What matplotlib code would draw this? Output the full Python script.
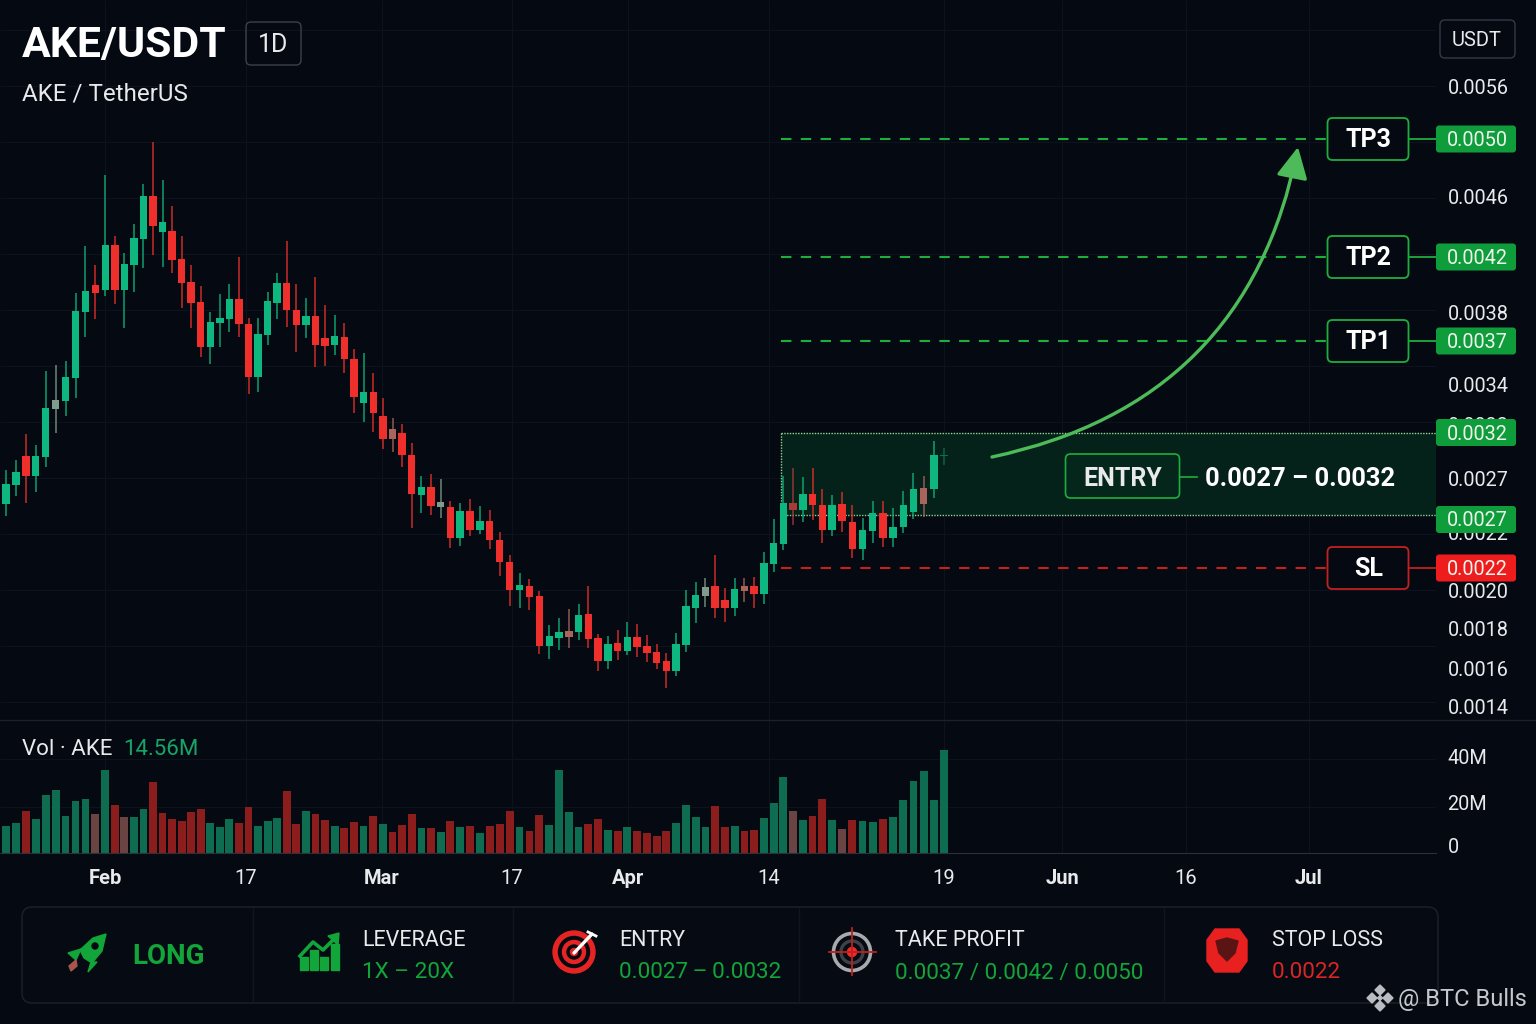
import matplotlib
matplotlib.use('Agg')
import matplotlib.pyplot as plt
import numpy as np
from matplotlib.patches import Circle, FancyArrowPatch, FancyBboxPatch, Polygon, Rectangle

plt.rcParams['font.family'] = ['Roboto', 'DejaVu Sans']

# prices are kept in chart ticks, read from the candles
HIGH = [442, 452, 478, 467, 541, 547, 551, 619, 666, 647,
        737, 676, 659, 688, 728, 770, 732, 706, 676, 647,
        626, 600, 618, 628, 655, 594, 594, 620, 639, 671,
        628, 614, 635, 607, 597, 589, 563, 559, 539, 514,
        494, 488, 469, 436, 438, 433, 411, 409, 413, 406,
        402, 380, 357, 339, 333, 321, 287, 294, 303, 308,
        326, 278, 276, 282, 290, 288, 277, 268, 259, 279,
        322, 330, 334, 357, 324, 334, 334, 335, 360, 393,
        436, 444, 435, 444, 423, 417, 420, 407, 394, 411,
        411, 404, 421, 439, 436, 471, 464]
LOW = [396, 416, 409, 420, 445, 479, 496, 514, 575, 593,
       616, 608, 584, 620, 644, 657, 645, 639, 604, 584,
       555, 548, 565, 580, 575, 518, 520, 567, 593, 585,
       560, 574, 545, 546, 557, 539, 499, 490, 480, 463,
       460, 445, 384, 399, 397, 394, 364, 366, 376, 378,
       363, 336, 306, 304, 302, 258, 253, 262, 264, 272,
       264, 241, 243, 252, 257, 255, 250, 243, 224, 236,
       260, 289, 305, 294, 290, 296, 310, 304, 308, 340,
       362, 387, 390, 392, 369, 376, 380, 354, 352, 369,
       365, 365, 379, 393, 395, 414, 447]
OPEN = [408, 427, 456, 436, 455, 503, 511, 534, 600, 627,
        622, 667, 622, 647, 673, 716, 680, 681, 653, 630,
        610, 565, 589, 593, 613, 588, 535, 577, 609, 629,
        602, 587, 596, 574, 567, 575, 553, 509, 520, 496,
        483, 479, 457, 417, 425, 405, 405, 374, 401, 382,
        391, 372, 350, 322, 326, 316, 266, 274, 281, 280,
        298, 274, 251, 269, 261, 275, 266, 260, 251, 241,
        267, 304, 316, 326, 312, 304, 326, 326, 318, 348,
        368, 409, 402, 418, 407, 382, 408, 390, 363, 381,
        399, 374, 385, 400, 424, 423, 456]
CLOSE = [428, 440, 436, 456, 504, 512, 535, 601, 621, 619,
         667, 622, 648, 674, 716, 686, 690, 652, 629, 609,
         565, 590, 594, 613, 588, 535, 578, 611, 629, 602,
         587, 596, 567, 566, 576, 553, 515, 520, 499, 473,
         473, 457, 418, 425, 406, 410, 374, 401, 382, 391,
         372, 350, 322, 327, 315, 266, 276, 280, 275, 297,
         273, 251, 268, 261, 275, 265, 259, 249, 241, 268,
         306, 317, 325, 304, 304, 323, 321, 318, 349, 369,
         409, 402, 418, 407, 382, 407, 391, 363, 382, 399,
         374, 385, 407, 423, 408, 457, 457]
MUTED_UP = [5, 45, 72, 96]
MUTED_DOWN = [40, 58, 76, 81, 94]

# volume in millions
VOLUME = [11.1, 12.6, 17.4, 14.0, 24.2, 26.4, 15.3, 21.7, 22.4, 16.1,
          34.6, 20.0, 14.9, 14.9, 18.5, 29.6, 16.5, 14.0, 13.5, 17.0,
          18.3, 12.5, 10.8, 14.3, 12.4, 19.0, 11.1, 13.5, 14.7, 25.7,
          11.9, 17.5, 16.3, 13.9, 11.1, 10.4, 12.8, 11.3, 15.6, 12.2,
          8.6, 11.5, 16.1, 10.3, 10.6, 8.9, 13.2, 11.0, 11.4, 8.5,
          11.1, 12.2, 17.4, 10.7, 9.2, 15.8, 11.8, 34.4, 16.9, 10.8,
          11.9, 14.2, 9.6, 9.2, 11.0, 9.0, 8.2, 7.1, 9.3, 12.6,
          19.9, 15.0, 11.0, 19.4, 10.7, 11.3, 9.3, 9.7, 14.7, 20.7,
          31.8, 17.4, 13.6, 15.3, 22.4, 13.6, 10.1, 13.6, 13.5, 12.9,
          14.2, 15.1, 22.2, 29.9, 34.2, 22.2, 43.0]
VOLUME_SIDE = ('ggrggggggd' 'grdggrrrrr' 'rgggrrgggr' 'rgrrgrrgrg' 'rrrgrgrgrg'
               'rrrgrrgggg' 'rrgrgrrrrg' 'gggrrgrrgg' 'gdgrrgdrgg' 'rgggggg')

# the time axis of the picture is not quite even, so it is calibrated
DAY_KNOTS = [0, 10, 20, 33, 47, 56, 75, 85, 96]
TIME_KNOTS = [6, 105.3, 200.7, 325, 460, 549.3, 734.7, 832, 944]
DATE_LABELS = ['Feb', '17', 'Mar', '17', 'Apr', '14', '19', 'Jun', '16', 'Jul']
DATE_POS = [105, 246, 382, 512, 628, 769, 944, 1062, 1186, 1309]
MONTHS = ['Feb', 'Mar', 'Apr', 'Jun', 'Jul']

PRICE_LABELS = ['0.0056', '0.0046', '0.0038', '0.0034', '0.0032', '0.0027',
                '0.0022', '0.0020', '0.0018', '0.0016', '0.0014']
PRICE_TICKS = [825, 715, 600, 527, 488, 433, 379, 322, 283, 244, 206]
VOL_LABELS = ['40M', '20M', '0']
VOL_TICKS = [40, 21, 3]

TARGETS = ['TP3', 'TP2', 'TP1', 'SL']
TARGET_PRICES = ['0.0050', '0.0042', '0.0037', '0.0022']
TARGET_TICKS = [773, 655, 571, 344]
ENTRY_TOP = 479
ENTRY_BOTTOM = 397

BG = '#050a12'
GREEN = '#0fb780'
RED = '#ef2f2b'
LINE_GREEN = '#1eae3e'
BADGE_GREEN = '#0f9c3a'
TEXT = '#e8eaec'
PANEL_W = 1436

fig = plt.figure(figsize=(15.36, 10.24), dpi=100, facecolor=BG)
ax = fig.add_axes([0, 1 - 720 / 1024, PANEL_W / 1536, 720 / 1024], facecolor=BG)
vol = fig.add_axes([0, 1 - 853 / 1024, PANEL_W / 1536, 133 / 1024], facecolor=BG)
top = fig.add_axes([0, 0, 1, 1])
top.set_xlim(0, 1536)
top.set_ylim(1024, 0)
top.axis('off')

x = np.interp(np.arange(len(HIGH)), DAY_KNOTS, TIME_KNOTS)
opens = np.array(OPEN)
closes = np.array(CLOSE)

colors = []
for i in range(len(HIGH)):
    if i in MUTED_UP:
        colors.append('#7f9c8c' if i != 96 else '#0c6e50')
    elif i in MUTED_DOWN:
        colors.append('#a9655c' if i != 81 else '#a83a3a')
    else:
        colors.append(GREEN if closes[i] >= opens[i] else RED)

# price panel
ax.set_xlim(0, PANEL_W)
ax.set_ylim(192, 912)
ax.hlines(np.arange(210, 912, 56), 0, PANEL_W, color='#0c131c', lw=0.8, zorder=0)
ax.vlines(DATE_POS, 192, 912, color='#0c131c', lw=0.8, zorder=0)
ax.add_patch(Rectangle((781, ENTRY_BOTTOM), PANEL_W - 781, ENTRY_TOP - ENTRY_BOTTOM,
                       facecolor='#05221a', edgecolor='none', zorder=1))
ax.hlines([ENTRY_TOP, ENTRY_BOTTOM], 781, PANEL_W, color='#8fd48f', lw=1, linestyles=(0, (1, 1)), zorder=2)
ax.vlines(781, ENTRY_BOTTOM, ENTRY_TOP, color='#8fd48f', lw=1, linestyles=(0, (1, 1)), zorder=2)

ax.vlines(x, LOW, HIGH, color=colors, lw=1.1, alpha=0.85, zorder=3)
ax.bar(x, np.abs(closes - opens).clip(min=1), bottom=np.minimum(opens, closes),
       width=7.4, color=colors, zorder=4)

ax.set_yticks(PRICE_TICKS, PRICE_LABELS)
ax.set_xticks([])
ax.tick_params(axis='y', left=False, labelleft=False, right=False, labelright=True,
               length=0, pad=8.2, labelsize=14.3, labelcolor=TEXT)
for s in ax.spines.values():
    s.set_visible(False)

# target levels with their boxes and price badges
for name, price, tick in zip(TARGETS, TARGET_PRICES, TARGET_TICKS):
    col = '#c4201f' if name == 'SL' else LINE_GREEN
    ax.plot([781, 1327], [tick, tick], color=col, lw=1.5, dashes=(5, 4.5), zorder=3)
    ax.plot([1409, 1436], [tick, tick], color=col, lw=1.3, zorder=3)
    ax.add_patch(FancyBboxPatch((1327.5, tick - 21), 81, 42, boxstyle='round,pad=0,rounding_size=5',
                                facecolor=BG, edgecolor=col, lw=1.3, zorder=5))
    ax.text(1368.5, tick - 1, name, color='white', fontsize=18, fontweight='bold',
            ha='center', va='center', zorder=6)
    badge = '#ee1c1c' if name == 'SL' else BADGE_GREEN
    ax.add_patch(FancyBboxPatch((1436, tick - 13.5), 80, 27, boxstyle='round,pad=0,rounding_size=3',
                                facecolor=badge, edgecolor='none', clip_on=False, zorder=7))
    ax.text(1477, tick - 1.5, price, color='#eef6ee', fontsize=14.3, ha='center', va='center',
            clip_on=False, zorder=8)

for price, tick in [('0.0032', ENTRY_TOP + 0.5), ('0.0027', ENTRY_BOTTOM - 4.5)]:
    ax.add_patch(FancyBboxPatch((1436, tick - 13.5), 80, 27, boxstyle='round,pad=0,rounding_size=3',
                                facecolor=BADGE_GREEN, edgecolor='none', clip_on=False, zorder=7))
    ax.text(1477, tick - 1.5, price, color='#eef6ee', fontsize=14.3, ha='center', va='center',
            clip_on=False, zorder=8)

# entry label
ax.add_patch(FancyBboxPatch((1065.5, 414), 114, 44, boxstyle='round,pad=0,rounding_size=5',
                            facecolor='#05271b', edgecolor=LINE_GREEN, lw=1.2, zorder=5))
ax.plot([1180, 1197], [435, 435], color=LINE_GREEN, lw=1.2, zorder=5)
ax.text(1123, 433.5, 'ENTRY', color=TEXT, fontsize=18, fontweight='bold', ha='center', va='center', zorder=6)
ax.text(1205, 433.5, '0.0027 – 0.0032', color='white', fontsize=18.4, fontweight='bold',
        ha='left', va='center', zorder=6)

ax.add_patch(FancyArrowPatch((992, 455), (1298, 765), connectionstyle='arc3,rad=0.33',
                             arrowstyle='-|>,head_length=0.95,head_width=0.48', mutation_scale=20,
                             color='#4dbb59', lw=2.4, shrinkA=0, shrinkB=0, zorder=5))

# volume panel
vol.set_xlim(0, PANEL_W)
vol.set_ylim(0, 133 / 2.4)
vol.vlines(DATE_POS, 0, 133 / 2.4, color='#0c131c', lw=0.8, zorder=0)
vol.hlines([19, 39], 0, PANEL_W, color='#0c131c', lw=0.8, zorder=0)
side_colors = {'g': '#0e6c50', 'r': '#8b1d1d', 'd': '#6a4343'}
vol.bar(x, VOLUME, width=7.8, color=[side_colors[s] for s in VOLUME_SIDE], zorder=2)
vol.set_xticks(DATE_POS, DATE_LABELS)
vol.set_yticks(VOL_TICKS, VOL_LABELS)
vol.tick_params(axis='y', left=False, labelleft=False, labelright=True, length=0, pad=8.2,
                labelsize=14.3, labelcolor=TEXT)
vol.tick_params(axis='x', length=0, pad=11.8, labelsize=14.5, labelcolor=TEXT)
for lab in vol.get_xticklabels():
    if lab.get_text() in MONTHS:
        lab.set_fontweight('bold')
for name, s in vol.spines.items():
    s.set_visible(name == 'bottom')
    s.set_color('#2a3139')
top.plot([0, 1536], [720, 720], color='#1a212b', lw=1)
top.text(22, 749.5, 'Vol · AKE', color=TEXT, fontsize=16, va='center')
top.text(123, 749.5, '14.56M', color='#16a566', fontsize=16, va='center')

# header
top.text(22, 45, 'AKE/USDT', color='white', fontsize=30.8, fontweight='bold', va='center')
top.text(22, 94, 'AKE / TetherUS', color=TEXT, fontsize=17.4, va='center')
top.add_patch(FancyBboxPatch((246, 22), 55, 43, boxstyle='round,pad=0,rounding_size=5',
                             facecolor='none', edgecolor='#3a414b', lw=1))
top.text(273.5, 45.5, '1D', color=TEXT, fontsize=18, ha='center', va='center')
top.add_patch(FancyBboxPatch((1440, 20), 75, 38, boxstyle='round,pad=0,rounding_size=5',
                             facecolor='none', edgecolor='#333a44', lw=1))
top.text(1477, 41, 'USDT', color=TEXT, fontsize=14.5, ha='center', va='center')

# summary strip
top.add_patch(FancyBboxPatch((22, 907), 1416, 96, boxstyle='round,pad=0,rounding_size=10',
                             facecolor='#060b13', edgecolor='#1c222b', lw=1))
top.vlines([253, 513, 799, 1164], 908, 1002, color='#10161f', lw=1)
SUMMARY_GREEN = '#12a53a'
top.text(168, 956.5, 'LONG', color=SUMMARY_GREEN, fontsize=20, fontweight='bold', ha='center', va='center')
for px, title, value, col in [(362, 'LEVERAGE', '1X – 20X', SUMMARY_GREEN),
                              (619, 'ENTRY', '0.0027\u2009–\u20090.0032', SUMMARY_GREEN),
                              (895, 'TAKE PROFIT', '0.0037 / 0.0042 / 0.0050', SUMMARY_GREEN),
                              (1272, 'STOP LOSS', '0.0022', '#d92525')]:
    top.text(px, 940, title, color=TEXT, fontsize=15.5, va='center')
    top.text(px, 973, value, color=col, fontsize=16.2, va='center')

# rocket
top.add_patch(Polygon([(106, 934), (93, 938), (80, 950), (84, 958), (92, 963), (102, 951)],
                      color=SUMMARY_GREEN))
top.add_patch(Polygon([(81, 949), (68, 953), (76, 960)], color=SUMMARY_GREEN))
top.add_patch(Polygon([(91, 962), (88, 972), (97, 962)], color=SUMMARY_GREEN))
top.add_patch(Polygon([(76, 960), (69, 966), (71, 971), (77, 966)], color='#a8564c'))
top.add_patch(Circle((95, 946), 3, color=BG))

# leverage chart icon
for bx, by in [(300, 957), (310, 950), (320, 957), (331, 944)]:
    top.add_patch(Rectangle((bx, by), 7.5, 970 - by, color=SUMMARY_GREEN))
top.plot([300, 313, 323, 336], [956, 942, 950, 937], color=SUMMARY_GREEN, lw=2.6)
top.add_patch(Polygon([(339, 933), (328, 936), (338, 945)], color=SUMMARY_GREEN))

# entry target
for r, col in [(21, '#e62424'), (15.5, BG), (11.5, '#e62424'), (7, BG), (3.5, '#e62424')]:
    top.add_patch(Circle((574, 952), r, color=col))
top.plot([574, 592], [953, 934], color='white', lw=2.4, solid_capstyle='round')
top.plot([588, 596], [932, 936], color='white', lw=2)

# take profit crosshair
top.add_patch(Circle((852, 952), 18.5, facecolor='none', edgecolor='#a8abae', lw=2.6))
top.add_patch(Circle((852, 952), 11, facecolor='none', edgecolor='#3c4248', lw=2.4))
top.plot([829, 876], [952, 952], color='#c11f1f', lw=1.3)
top.plot([852, 852], [928, 975], color='#c11f1f', lw=1.3)
top.add_patch(Circle((852, 952), 4.5, color='#ef2b2b'))

# stop loss badge
top.add_patch(Polygon([(1215, 929), (1239, 929), (1247, 940), (1247, 961), (1239, 972),
                       (1215, 972), (1207, 961), (1207, 940)], color='#e8201f'))
top.add_patch(Polygon([(1216, 941), (1227, 938), (1238, 941), (1235, 953), (1227, 961), (1219, 953)],
                      color='#5a1414'))

# watermark
mark = '#b9bcc0'
for cx, cy, r in [(1380, 990, 5), (1372, 998, 5), (1388, 998, 5), (1380, 1006, 5), (1380, 998, 2.5)]:
    top.add_patch(Polygon([(cx, cy - r), (cx + r, cy), (cx, cy + r), (cx - r, cy)], color=mark))
top.text(1398, 999.5, '@ BTC Bulls', color='#c5c8cc', fontsize=17, va='center')

fig.savefig('out.png', dpi=100, facecolor=BG)
